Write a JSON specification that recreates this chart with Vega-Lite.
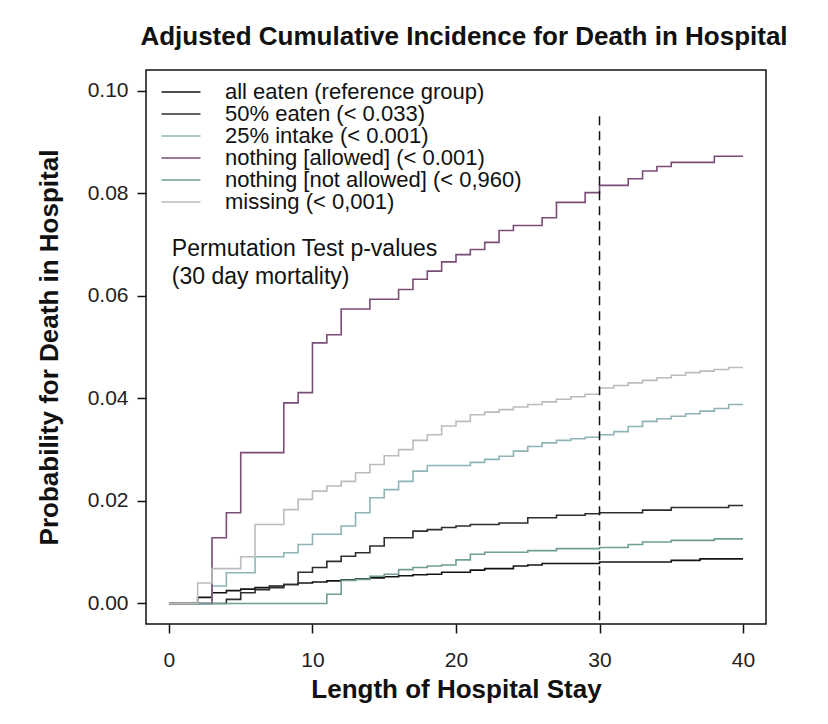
{
  "$schema": "https://vega.github.io/schema/vega-lite/v6.json",
  "autosize": "none",
  "width": 620,
  "height": 554,
  "padding": {"left": 146, "top": 70, "right": 62, "bottom": 100},
  "background": "white",
  "title": {"text": "Adjusted Cumulative Incidence for Death in Hospital", "font": "Liberation Sans", "fontSize": 26, "fontWeight": "bold", "color": "#111", "anchor": "middle", "offset": 20, "dx": 8},
  "config": {
    "view": {"stroke": "#111", "strokeWidth": 1.5},
    "axis": {"domain": false, "grid": false, "tickColor": "#111", "tickSize": 9, "tickWidth": 1.5, "labelFont": "Liberation Sans", "labelFontSize": 21, "labelColor": "#222", "titleFont": "Liberation Sans", "titleFontSize": 26, "titleFontWeight": "bold", "titleColor": "#111"}
  },
  "layer": [
    {
      "data": {"values": [
        {"series": "all eaten (reference group)", "day": 0, "p": 0},
        {"series": "all eaten (reference group)", "day": 2, "p": 0.0012},
        {"series": "all eaten (reference group)", "day": 3, "p": 0.0021},
        {"series": "all eaten (reference group)", "day": 4, "p": 0.0025},
        {"series": "all eaten (reference group)", "day": 5, "p": 0.0028},
        {"series": "all eaten (reference group)", "day": 6, "p": 0.0031},
        {"series": "all eaten (reference group)", "day": 7, "p": 0.0034},
        {"series": "all eaten (reference group)", "day": 8, "p": 0.0037},
        {"series": "all eaten (reference group)", "day": 9, "p": 0.004},
        {"series": "all eaten (reference group)", "day": 10, "p": 0.0042},
        {"series": "all eaten (reference group)", "day": 11, "p": 0.0044},
        {"series": "all eaten (reference group)", "day": 12, "p": 0.0046},
        {"series": "all eaten (reference group)", "day": 13, "p": 0.0048},
        {"series": "all eaten (reference group)", "day": 14, "p": 0.005},
        {"series": "all eaten (reference group)", "day": 15, "p": 0.0052},
        {"series": "all eaten (reference group)", "day": 16, "p": 0.0054},
        {"series": "all eaten (reference group)", "day": 17, "p": 0.0056},
        {"series": "all eaten (reference group)", "day": 18, "p": 0.0057},
        {"series": "all eaten (reference group)", "day": 19, "p": 0.0061},
        {"series": "all eaten (reference group)", "day": 21, "p": 0.0065},
        {"series": "all eaten (reference group)", "day": 22, "p": 0.0068},
        {"series": "all eaten (reference group)", "day": 24, "p": 0.0073},
        {"series": "all eaten (reference group)", "day": 25, "p": 0.0075},
        {"series": "all eaten (reference group)", "day": 26, "p": 0.0078},
        {"series": "all eaten (reference group)", "day": 30, "p": 0.0081},
        {"series": "all eaten (reference group)", "day": 35, "p": 0.0084},
        {"series": "all eaten (reference group)", "day": 37, "p": 0.0087},
        {"series": "all eaten (reference group)", "day": 40, "p": 0.0087},

        {"series": "50% eaten (< 0.033)", "day": 0, "p": 0},
        {"series": "50% eaten (< 0.033)", "day": 4, "p": 0.0008},
        {"series": "50% eaten (< 0.033)", "day": 5, "p": 0.0021},
        {"series": "50% eaten (< 0.033)", "day": 6, "p": 0.0027},
        {"series": "50% eaten (< 0.033)", "day": 7, "p": 0.0031},
        {"series": "50% eaten (< 0.033)", "day": 8, "p": 0.0037},
        {"series": "50% eaten (< 0.033)", "day": 9, "p": 0.0061},
        {"series": "50% eaten (< 0.033)", "day": 10, "p": 0.007},
        {"series": "50% eaten (< 0.033)", "day": 11, "p": 0.0082},
        {"series": "50% eaten (< 0.033)", "day": 12, "p": 0.0092},
        {"series": "50% eaten (< 0.033)", "day": 13, "p": 0.0099},
        {"series": "50% eaten (< 0.033)", "day": 14, "p": 0.0112},
        {"series": "50% eaten (< 0.033)", "day": 15, "p": 0.0128},
        {"series": "50% eaten (< 0.033)", "day": 17, "p": 0.0141},
        {"series": "50% eaten (< 0.033)", "day": 18, "p": 0.0144},
        {"series": "50% eaten (< 0.033)", "day": 19, "p": 0.0148},
        {"series": "50% eaten (< 0.033)", "day": 20, "p": 0.0151},
        {"series": "50% eaten (< 0.033)", "day": 21, "p": 0.0154},
        {"series": "50% eaten (< 0.033)", "day": 23, "p": 0.0157},
        {"series": "50% eaten (< 0.033)", "day": 25, "p": 0.0167},
        {"series": "50% eaten (< 0.033)", "day": 27, "p": 0.0172},
        {"series": "50% eaten (< 0.033)", "day": 29, "p": 0.0175},
        {"series": "50% eaten (< 0.033)", "day": 30, "p": 0.0177},
        {"series": "50% eaten (< 0.033)", "day": 33, "p": 0.0182},
        {"series": "50% eaten (< 0.033)", "day": 35, "p": 0.0187},
        {"series": "50% eaten (< 0.033)", "day": 39, "p": 0.0191},
        {"series": "50% eaten (< 0.033)", "day": 40, "p": 0.0191},

        {"series": "25% intake (< 0.001)", "day": 0, "p": 0},
        {"series": "25% intake (< 0.001)", "day": 3, "p": 0.0034},
        {"series": "25% intake (< 0.001)", "day": 4, "p": 0.006},
        {"series": "25% intake (< 0.001)", "day": 6, "p": 0.0091},
        {"series": "25% intake (< 0.001)", "day": 8, "p": 0.0099},
        {"series": "25% intake (< 0.001)", "day": 9, "p": 0.0115},
        {"series": "25% intake (< 0.001)", "day": 10, "p": 0.0135},
        {"series": "25% intake (< 0.001)", "day": 12, "p": 0.0151},
        {"series": "25% intake (< 0.001)", "day": 13, "p": 0.0177},
        {"series": "25% intake (< 0.001)", "day": 14, "p": 0.0206},
        {"series": "25% intake (< 0.001)", "day": 15, "p": 0.0222},
        {"series": "25% intake (< 0.001)", "day": 16, "p": 0.0238},
        {"series": "25% intake (< 0.001)", "day": 17, "p": 0.0258},
        {"series": "25% intake (< 0.001)", "day": 18, "p": 0.0269},
        {"series": "25% intake (< 0.001)", "day": 21, "p": 0.0275},
        {"series": "25% intake (< 0.001)", "day": 22, "p": 0.0281},
        {"series": "25% intake (< 0.001)", "day": 23, "p": 0.0287},
        {"series": "25% intake (< 0.001)", "day": 24, "p": 0.0297},
        {"series": "25% intake (< 0.001)", "day": 25, "p": 0.0306},
        {"series": "25% intake (< 0.001)", "day": 26, "p": 0.0313},
        {"series": "25% intake (< 0.001)", "day": 27, "p": 0.0318},
        {"series": "25% intake (< 0.001)", "day": 28, "p": 0.0321},
        {"series": "25% intake (< 0.001)", "day": 29, "p": 0.0324},
        {"series": "25% intake (< 0.001)", "day": 30, "p": 0.0329},
        {"series": "25% intake (< 0.001)", "day": 31, "p": 0.0335},
        {"series": "25% intake (< 0.001)", "day": 32, "p": 0.0345},
        {"series": "25% intake (< 0.001)", "day": 33, "p": 0.0355},
        {"series": "25% intake (< 0.001)", "day": 34, "p": 0.036},
        {"series": "25% intake (< 0.001)", "day": 35, "p": 0.0365},
        {"series": "25% intake (< 0.001)", "day": 36, "p": 0.037},
        {"series": "25% intake (< 0.001)", "day": 37, "p": 0.0375},
        {"series": "25% intake (< 0.001)", "day": 38, "p": 0.038},
        {"series": "25% intake (< 0.001)", "day": 39, "p": 0.0388},
        {"series": "25% intake (< 0.001)", "day": 40, "p": 0.0388},

        {"series": "nothing [allowed] (< 0.001)", "day": 0, "p": 0},
        {"series": "nothing [allowed] (< 0.001)", "day": 3, "p": 0.0128},
        {"series": "nothing [allowed] (< 0.001)", "day": 4, "p": 0.0177},
        {"series": "nothing [allowed] (< 0.001)", "day": 5, "p": 0.0294},
        {"series": "nothing [allowed] (< 0.001)", "day": 8, "p": 0.0391},
        {"series": "nothing [allowed] (< 0.001)", "day": 9, "p": 0.0411},
        {"series": "nothing [allowed] (< 0.001)", "day": 10, "p": 0.0508},
        {"series": "nothing [allowed] (< 0.001)", "day": 11, "p": 0.0524},
        {"series": "nothing [allowed] (< 0.001)", "day": 12, "p": 0.0574},
        {"series": "nothing [allowed] (< 0.001)", "day": 14, "p": 0.0593},
        {"series": "nothing [allowed] (< 0.001)", "day": 16, "p": 0.0612},
        {"series": "nothing [allowed] (< 0.001)", "day": 17, "p": 0.0632},
        {"series": "nothing [allowed] (< 0.001)", "day": 18, "p": 0.0648},
        {"series": "nothing [allowed] (< 0.001)", "day": 19, "p": 0.0666},
        {"series": "nothing [allowed] (< 0.001)", "day": 20, "p": 0.068},
        {"series": "nothing [allowed] (< 0.001)", "day": 21, "p": 0.069},
        {"series": "nothing [allowed] (< 0.001)", "day": 22, "p": 0.0704},
        {"series": "nothing [allowed] (< 0.001)", "day": 23, "p": 0.0727},
        {"series": "nothing [allowed] (< 0.001)", "day": 24, "p": 0.0737},
        {"series": "nothing [allowed] (< 0.001)", "day": 26, "p": 0.0752},
        {"series": "nothing [allowed] (< 0.001)", "day": 27, "p": 0.0782},
        {"series": "nothing [allowed] (< 0.001)", "day": 29, "p": 0.0801},
        {"series": "nothing [allowed] (< 0.001)", "day": 30, "p": 0.0815},
        {"series": "nothing [allowed] (< 0.001)", "day": 32, "p": 0.0828},
        {"series": "nothing [allowed] (< 0.001)", "day": 33, "p": 0.0843},
        {"series": "nothing [allowed] (< 0.001)", "day": 34, "p": 0.0852},
        {"series": "nothing [allowed] (< 0.001)", "day": 35, "p": 0.086},
        {"series": "nothing [allowed] (< 0.001)", "day": 38, "p": 0.0872},
        {"series": "nothing [allowed] (< 0.001)", "day": 40, "p": 0.0872},

        {"series": "nothing [not allowed] (< 0,960)", "day": 0, "p": 0},
        {"series": "nothing [not allowed] (< 0,960)", "day": 11, "p": 0.0018},
        {"series": "nothing [not allowed] (< 0,960)", "day": 12, "p": 0.0045},
        {"series": "nothing [not allowed] (< 0,960)", "day": 13, "p": 0.0047},
        {"series": "nothing [not allowed] (< 0,960)", "day": 14, "p": 0.0053},
        {"series": "nothing [not allowed] (< 0,960)", "day": 15, "p": 0.0057},
        {"series": "nothing [not allowed] (< 0,960)", "day": 16, "p": 0.0066},
        {"series": "nothing [not allowed] (< 0,960)", "day": 17, "p": 0.007},
        {"series": "nothing [not allowed] (< 0,960)", "day": 18, "p": 0.0073},
        {"series": "nothing [not allowed] (< 0,960)", "day": 19, "p": 0.0075},
        {"series": "nothing [not allowed] (< 0,960)", "day": 20, "p": 0.0085},
        {"series": "nothing [not allowed] (< 0,960)", "day": 21, "p": 0.0096},
        {"series": "nothing [not allowed] (< 0,960)", "day": 22, "p": 0.01},
        {"series": "nothing [not allowed] (< 0,960)", "day": 25, "p": 0.0103},
        {"series": "nothing [not allowed] (< 0,960)", "day": 27, "p": 0.0107},
        {"series": "nothing [not allowed] (< 0,960)", "day": 30, "p": 0.0109},
        {"series": "nothing [not allowed] (< 0,960)", "day": 32, "p": 0.0115},
        {"series": "nothing [not allowed] (< 0,960)", "day": 33, "p": 0.012},
        {"series": "nothing [not allowed] (< 0,960)", "day": 35, "p": 0.0123},
        {"series": "nothing [not allowed] (< 0,960)", "day": 38, "p": 0.0126},
        {"series": "nothing [not allowed] (< 0,960)", "day": 40, "p": 0.0126},

        {"series": "missing (< 0,001)", "day": 0, "p": 0},
        {"series": "missing (< 0,001)", "day": 2, "p": 0.004},
        {"series": "missing (< 0,001)", "day": 3, "p": 0.0068},
        {"series": "missing (< 0,001)", "day": 5, "p": 0.0091},
        {"series": "missing (< 0,001)", "day": 6, "p": 0.0154},
        {"series": "missing (< 0,001)", "day": 8, "p": 0.0183},
        {"series": "missing (< 0,001)", "day": 9, "p": 0.0203},
        {"series": "missing (< 0,001)", "day": 10, "p": 0.0219},
        {"series": "missing (< 0,001)", "day": 11, "p": 0.0229},
        {"series": "missing (< 0,001)", "day": 12, "p": 0.0238},
        {"series": "missing (< 0,001)", "day": 13, "p": 0.0255},
        {"series": "missing (< 0,001)", "day": 14, "p": 0.0271},
        {"series": "missing (< 0,001)", "day": 15, "p": 0.0288},
        {"series": "missing (< 0,001)", "day": 16, "p": 0.03},
        {"series": "missing (< 0,001)", "day": 17, "p": 0.0318},
        {"series": "missing (< 0,001)", "day": 18, "p": 0.0329},
        {"series": "missing (< 0,001)", "day": 19, "p": 0.0346},
        {"series": "missing (< 0,001)", "day": 20, "p": 0.0355},
        {"series": "missing (< 0,001)", "day": 21, "p": 0.0368},
        {"series": "missing (< 0,001)", "day": 22, "p": 0.0373},
        {"series": "missing (< 0,001)", "day": 23, "p": 0.0378},
        {"series": "missing (< 0,001)", "day": 24, "p": 0.0383},
        {"series": "missing (< 0,001)", "day": 25, "p": 0.0388},
        {"series": "missing (< 0,001)", "day": 26, "p": 0.0393},
        {"series": "missing (< 0,001)", "day": 27, "p": 0.0398},
        {"series": "missing (< 0,001)", "day": 28, "p": 0.0403},
        {"series": "missing (< 0,001)", "day": 29, "p": 0.0408},
        {"series": "missing (< 0,001)", "day": 30, "p": 0.042},
        {"series": "missing (< 0,001)", "day": 31, "p": 0.0425},
        {"series": "missing (< 0,001)", "day": 32, "p": 0.043},
        {"series": "missing (< 0,001)", "day": 33, "p": 0.0435},
        {"series": "missing (< 0,001)", "day": 34, "p": 0.044},
        {"series": "missing (< 0,001)", "day": 35, "p": 0.0445},
        {"series": "missing (< 0,001)", "day": 36, "p": 0.045},
        {"series": "missing (< 0,001)", "day": 37, "p": 0.0453},
        {"series": "missing (< 0,001)", "day": 38, "p": 0.0456},
        {"series": "missing (< 0,001)", "day": 39, "p": 0.046},
        {"series": "missing (< 0,001)", "day": 40, "p": 0.046}
      ]},
      "mark": {"type": "line", "interpolate": "step-after", "strokeWidth": 1.6},
      "encoding": {
        "x": {"field": "day", "type": "quantitative", "scale": {"domain": [-1.6, 41.6], "nice": false, "zero": false}, "axis": {"values": [0, 10, 20, 30, 40], "title": "Length of Hospital Stay", "labelPadding": 16, "titlePadding": 6}},
        "y": {"field": "p", "type": "quantitative", "scale": {"domain": [-0.004, 0.104], "nice": false, "zero": false}, "axis": {"values": [0, 0.02, 0.04, 0.06, 0.08, 0.1], "format": ".2f", "title": "Probability for Death in Hospital", "labelPadding": 9, "titlePadding": 25}},
        "color": {"field": "series", "type": "nominal",
          "scale": {"domain": ["all eaten (reference group)", "50% eaten (< 0.033)", "25% intake (< 0.001)", "nothing [allowed] (< 0.001)", "nothing [not allowed] (< 0,960)", "missing (< 0,001)"],
                    "range": ["#141414", "#2e2e2e", "#8fb4b6", "#7a4d77", "#6e9e95", "#bcbcbc"]},
          "legend": {"title": null, "orient": "none", "legendX": 24, "legendY": 11, "padding": 0, "symbolType": "M-2,0H2", "symbolSize": 380, "symbolStrokeWidth": 1.5, "symbolFillColor": "transparent", "labelFont": "Liberation Sans", "labelFontSize": 22, "labelColor": "#111", "labelOffset": 33, "rowPadding": -3, "labelLimit": 500}
        }
      }
    },
    {
      "data": {"values": [{"day": 30, "top": 0.095, "bottom": -0.004}]},
      "mark": {"type": "rule", "color": "#111", "strokeWidth": 1.5, "strokeDash": [9, 6]},
      "encoding": {
        "x": {"field": "day", "type": "quantitative"},
        "y": {"field": "top", "type": "quantitative"},
        "y2": {"field": "bottom"}
      }
    },
    {
      "data": {"values": [
        {"day": 0.2, "p": 0.0677, "label": "Permutation Test p-values"},
        {"day": 0.2, "p": 0.0622, "label": "(30 day mortality)"}
      ]},
      "mark": {"type": "text", "align": "left", "baseline": "alphabetic", "font": "Liberation Sans", "fontSize": 23, "color": "#111"},
      "encoding": {
        "x": {"field": "day", "type": "quantitative"},
        "y": {"field": "p", "type": "quantitative"},
        "text": {"field": "label"}
      }
    }
  ]
}
